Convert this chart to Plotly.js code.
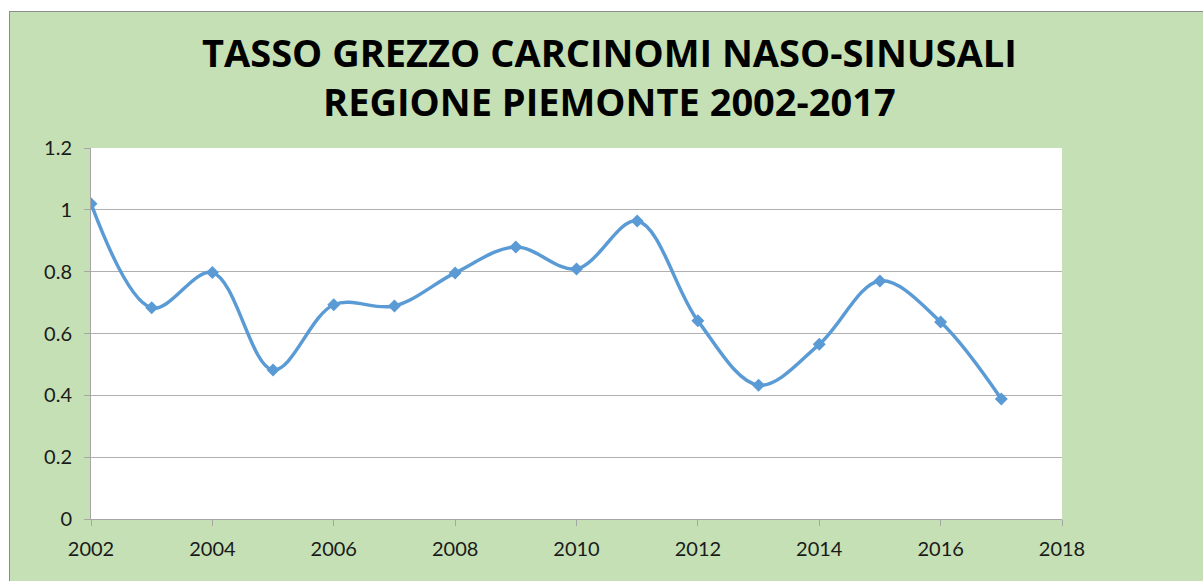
<!DOCTYPE html>
<html>
<head>
<meta charset="utf-8">
<script src="https://cdn.plot.ly/plotly-3.0.1.min.js"></script>
<style>
html, body { margin: 0; padding: 0; background: #ffffff; width: 1203px; height: 581px; overflow: hidden; }
#frame { position: absolute; left: 9px; top: 11px; width: 1194px; height: 570px; border-left: 1px solid #8c8c8c; border-top: 1px solid #8c8c8c; background: #c5e0b4; }
#chart { width: 1194px; height: 570px; }
</style>
</head>
<body>
<div id="frame"><div id="chart"></div></div>
<script>
const years = [2002, 2003, 2004, 2005, 2006, 2007, 2008, 2009, 2010, 2011, 2012, 2013, 2014, 2015, 2016, 2017];
const rates = [1.02, 0.683, 0.797, 0.482, 0.693, 0.689, 0.796, 0.880, 0.809, 0.964, 0.641, 0.433, 0.565, 0.770, 0.637, 0.388];
const xTicks = [2002, 2004, 2006, 2008, 2010, 2012, 2014, 2016, 2018];
const yTicks = [0, 0.2, 0.4, 0.6, 0.8, 1, 1.2];
const yTickText = ['0', '0.2', '0.4', '0.6', '0.8', '1', '1.2'];

const trace = {
  x: years, y: rates, type: 'scatter', mode: 'lines+markers',
  line: { color: '#5b9bd5', width: 3.5, shape: 'spline', smoothing: 1 },
  marker: { symbol: 'diamond', size: 10, color: '#5b9bd5' },
  hoverinfo: 'x+y', showlegend: false
};

const layout = {
  width: 1194, height: 570,
  margin: { l: 81, r: 142, t: 136, b: 63 },
  paper_bgcolor: '#c5e0b4', plot_bgcolor: '#ffffff',
  font: { family: 'Lato, "Open Sans", sans-serif', color: '#1a1a1a', size: 20 },
  title: {
    text: 'TASSO GREZZO CARCINOMI NASO-SINUSALI<br>REGIONE PIEMONTE 2002-2017',
    font: { family: '"Open Sans", sans-serif', size: 38, color: '#000000', weight: 'bold' },
    x: 0.502, xanchor: 'center', y: 0.904, yanchor: 'middle', yref: 'container'
  },
  xaxis: {
    range: [2002, 2018], tickvals: xTicks, ticktext: xTicks.map(String),
    showgrid: false, zeroline: false, showline: true, linecolor: '#a6a6a6', linewidth: 1,
    ticks: 'outside', ticklen: 6, tickcolor: '#a6a6a6', tickwidth: 1, ticklabelstandoff: 6,
    tickfont: { size: 20, color: '#1a1a1a' }, fixedrange: true
  },
  yaxis: {
    range: [0, 1.2], tickvals: yTicks, ticktext: yTickText,
    showgrid: true, gridcolor: '#b0b0b0', gridwidth: 1, zeroline: false,
    showline: true, linecolor: '#a6a6a6', linewidth: 1,
    ticks: 'outside', ticklen: 6, tickcolor: '#a6a6a6', tickwidth: 1, ticklabelstandoff: 8,
    tickfont: { size: 20, color: '#1a1a1a' }, fixedrange: true
  }
};

Plotly.newPlot('chart', [trace], layout, { displayModeBar: false, staticPlot: true });
</script>
</body>
</html>
